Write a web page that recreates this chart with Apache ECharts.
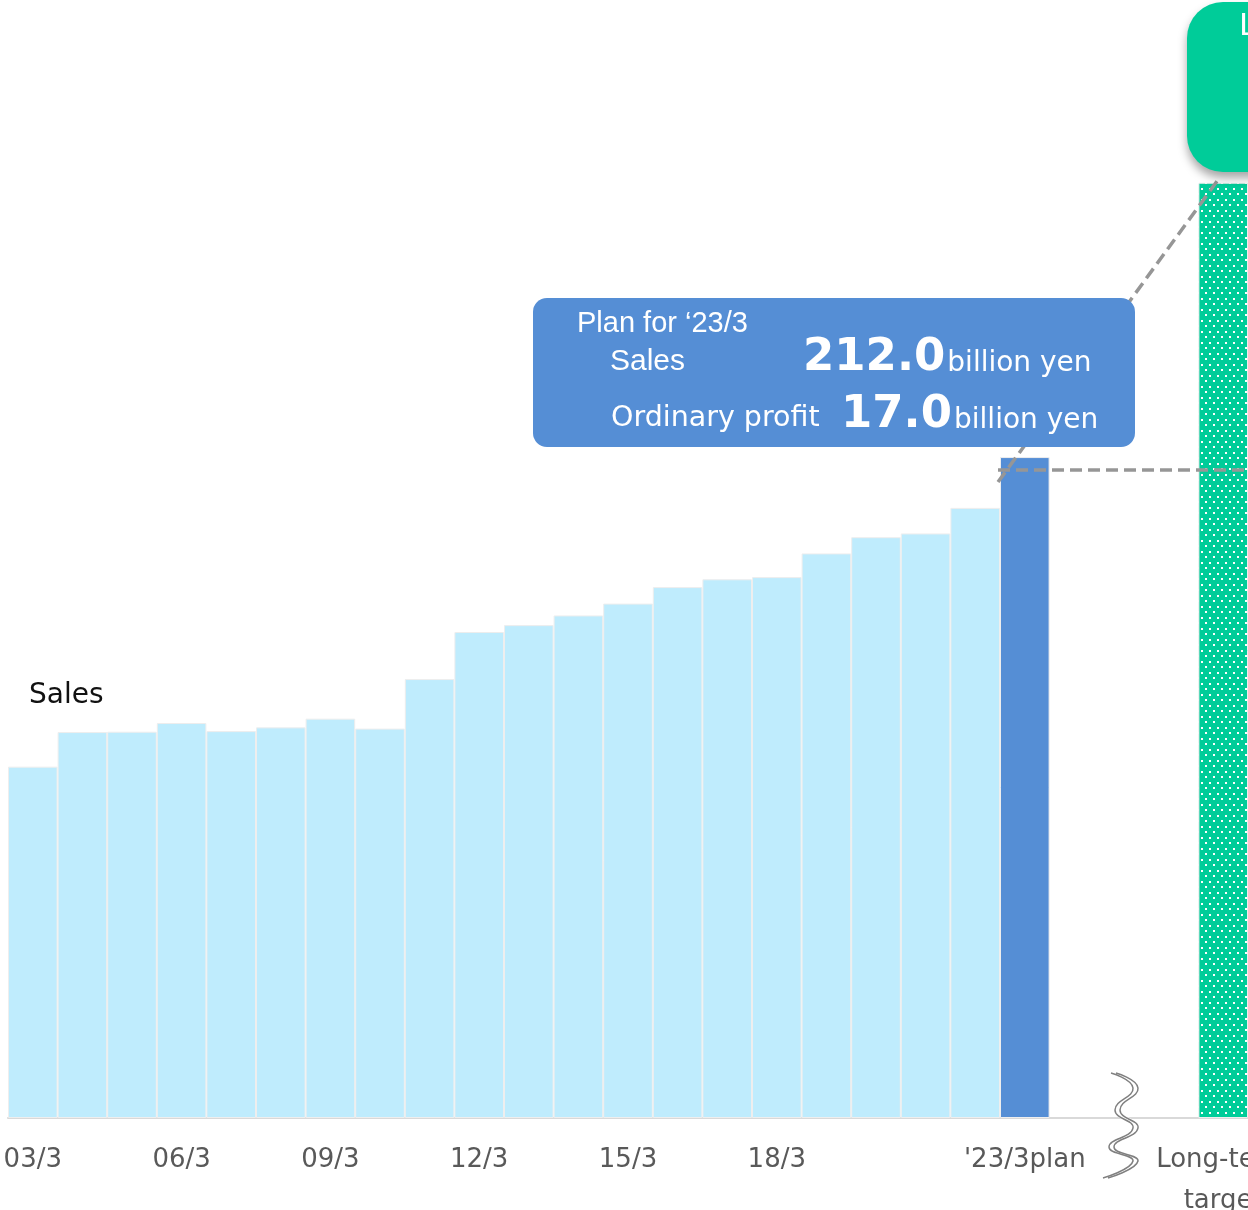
<!DOCTYPE html>
<html>
<head>
<meta charset="utf-8">
<script src="https://cdn.jsdelivr.net/npm/echarts@6/dist/echarts.min.js"></script>
<style>
  html, body { margin: 0; padding: 0; background: #ffffff; }
  #chart { width: 1248px; height: 1210px; }
</style>
</head>
<body>
<div id="chart"></div>
<script>
// Net sales by fiscal year end (billion yen)
const fiscalYears = ['03/3', '04/3', '05/3', '06/3', '07/3', '08/3', '09/3', '10/3', '11/3', '12/3',
                     '13/3', '14/3', '15/3', '16/3', '17/3', '18/3', '19/3', '20/3', '21/3', '22/3'];
const actualSales = [112.7, 123.8, 123.9, 126.7, 124.1, 125.3, 128.1, 124.9, 140.8, 155.9,
                     158.1, 161.2, 165.0, 170.3, 172.8, 173.5, 181.1, 186.3, 187.5, 195.7];
const planYear = "'23/3plan";
const planSales = 212.0;
const planOrdinaryProfit = 17.0;
const gapSlots = [' ', '  ', '   '];          // empty slots before the long-term target
const targetName = 'Long-term\ntarget';
const targetSales = 300.0;
const shownTickLabels = ['03/3', '06/3', '09/3', '12/3', '15/3', '18/3', "'23/3plan", 'Long-term\ntarget'];

const categories = fiscalYears.concat([planYear], gapSlots, [targetName]);

// dotted fill for the target bar
function makeDotPattern() {
  const c = document.createElement('canvas');
  c.width = 8; c.height = 11;
  const ctx = c.getContext('2d');
  ctx.fillStyle = '#00CC99';
  ctx.fillRect(0, 0, 8, 11);
  ctx.fillStyle = '#ffffff';
  ctx.fillRect(1, 1, 2, 2);
  ctx.fillRect(5, 6, 2, 2);
  return { image: c, repeat: 'repeat' };
}

const barData = actualSales.map(v => ({ value: v, itemStyle: { color: '#BFECFD' } }))
  .concat([{ value: planSales, itemStyle: { color: '#558ED5' } }])
  .concat(gapSlots.map(() => '-'))
  .concat([{ value: targetSales, itemStyle: { color: makeDotPattern() } }]);

const chart = echarts.init(document.getElementById('chart'), null, { renderer: 'canvas' });

chart.setOption({
  animation: false,
  grid: { left: 8, right: 0, top: 58, bottom: 92, containLabel: false, outerBoundsMode: 'none' },
  xAxis: {
    type: 'category',
    data: categories,
    axisLine: { lineStyle: { color: '#d9d9d9', width: 2 } },
    axisTick: { show: false },
    axisLabel: {
      interval: 0,
      margin: 22,
      fontSize: 26,
      lineHeight: 41,
      fontFamily: 'DejaVu Sans',
      color: '#595959',
      formatter: v => (shownTickLabels.includes(v) ? v : '')
    }
  },
  yAxis: { type: 'value', min: 0, max: 340, show: false },
  series: [{
    type: 'bar',
    data: barData,
    barWidth: '100%',
    barCategoryGap: '0%',
    itemStyle: { borderColor: '#eeeeee', borderWidth: 1 }
  }]
});

// annotations positioned from the bars
const px = (i, v) => chart.convertToPixel({ seriesIndex: 0 }, [i, v]);
const planIdx = fiscalYears.length;
const targetIdx = categories.length - 1;
const slotW = px(1, 0)[0] - px(0, 0)[0];
const [planX, planTop] = px(planIdx, planSales);
const [targetX, targetTop] = px(targetIdx, targetSales);
const baseY = px(0, 0)[1];
const gapX = px(planIdx + 2, 0)[0];
const planLeft = planX - slotW / 2;
const targetLeft = targetX - slotW / 2;

const measure = document.createElement('canvas').getContext('2d');
function textWidth(t, font) { measure.font = font; return measure.measureText(t).width; }

const dash = { stroke: '#969696', lineWidth: 3.5, lineDash: [12, 6] };
const white = '#ffffff';
const bigFont = 'bold 45px "DejaVu Sans"';
const unitFont = '28px "DejaVu Sans"';

const salesText = planSales.toFixed(1);
const profitText = planOrdinaryProfit.toFixed(1);
const salesNumX = 803, profitNumX = 841;

// break mark between the plan year and the long-term target
const wave = [[-13, -45], [9, -30], [-9, -8], [9, 10], [-15, 29], [9, 43], [-21, 60]];
const wavePts = (dx) => wave.map(([x, y]) => [gapX + x + dx, baseY + y]);

chart.setOption({
  graphic: [
    { type: 'line', z: 10, shape: { x1: planLeft - 2, y1: planTop + 13, x2: 1260, y2: planTop + 13 }, style: dash },
    { type: 'line', z: 10, shape: { x1: planLeft - 2, y1: planTop + 25, x2: targetLeft + 19, y2: targetTop - 2 }, style: dash },

    { type: 'polyline', z: 10, shape: { points: wavePts(2.5), smooth: 0.5 }, style: { stroke: '#ffffff', lineWidth: 5, fill: null } },
    { type: 'polyline', z: 11, shape: { points: wavePts(0), smooth: 0.5 }, style: { stroke: '#808080', lineWidth: 1.5, fill: null } },
    { type: 'polyline', z: 11, shape: { points: wavePts(5), smooth: 0.5 }, style: { stroke: '#808080', lineWidth: 1.5, fill: null } },

    { type: 'text', z: 20, x: 29, y: 696,
      style: { text: 'Sales', fill: '#111111', font: '28px "DejaVu Sans"', align: 'left', verticalAlign: 'middle' } },

    { type: 'rect', z: 20, shape: { x: 533, y: 298, width: 602, height: 149, r: 14 }, style: { fill: '#558ED5' } },
    { type: 'text', z: 21, x: 577, y: 324,
      style: { text: 'Plan for \u201823/3', fill: white, font: '29px "Liberation Sans"', align: 'left', verticalAlign: 'middle' } },
    { type: 'text', z: 21, x: 610, y: 362,
      style: { text: 'Sales', fill: white, font: '30px "Liberation Sans"', align: 'left', verticalAlign: 'middle' } },
    { type: 'text', z: 21, x: salesNumX, y: 358,
      style: { text: salesText, fill: white, font: bigFont, align: 'left', verticalAlign: 'middle' } },
    { type: 'text', z: 21, x: salesNumX + textWidth(salesText, bigFont) + 2, y: 364,
      style: { text: 'billion yen', fill: white, font: unitFont, align: 'left', verticalAlign: 'middle' } },
    { type: 'text', z: 21, x: 611, y: 419,
      style: { text: 'Ordinary profit', fill: white, font: '28.5px "DejaVu Sans"', align: 'left', verticalAlign: 'middle' } },
    { type: 'text', z: 21, x: profitNumX, y: 415,
      style: { text: profitText, fill: white, font: bigFont, align: 'left', verticalAlign: 'middle' } },
    { type: 'text', z: 21, x: profitNumX + textWidth(profitText, bigFont) + 2, y: 421,
      style: { text: 'billion yen', fill: white, font: unitFont, align: 'left', verticalAlign: 'middle' } },

    { type: 'rect', z: 20, shape: { x: 1187, y: 2, width: 140, height: 170, r: 36 },
      style: { fill: '#00CC99', shadowBlur: 10, shadowOffsetY: 6, shadowColor: 'rgba(0,0,0,0.35)' } },
    { type: 'text', z: 21, x: 1239, y: 27,
      style: { text: 'Long-term target', fill: white, font: '31px "DejaVu Sans"', align: 'left', verticalAlign: 'middle' } }
  ]
});
</script>
</body>
</html>
